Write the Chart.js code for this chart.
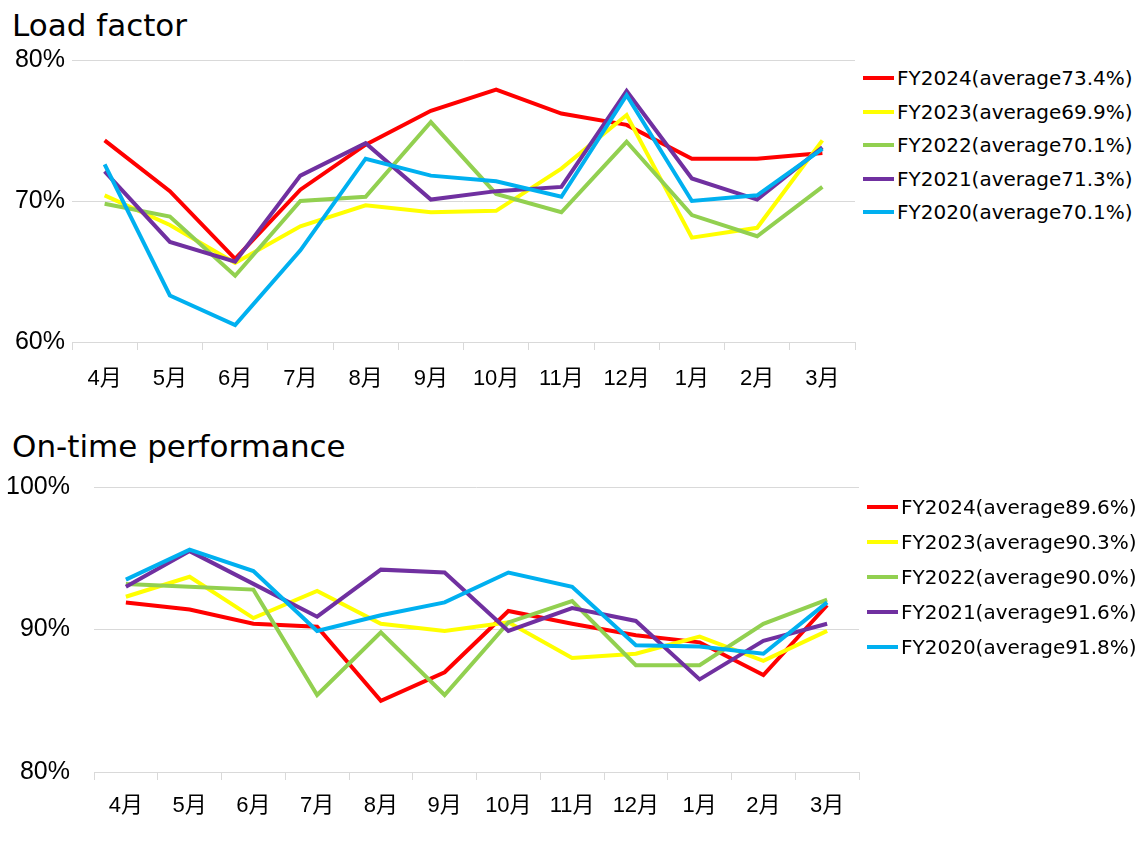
<!DOCTYPE html>
<html>
<head>
<meta charset="utf-8">
<script src="https://cdn.jsdelivr.net/npm/chart.js@4.4.1/dist/chart.umd.min.js"></script>
<style>
  html, body { margin: 0; padding: 0; background: #fff; }
  body { width: 1146px; height: 847px; position: relative; overflow: hidden; }
  .title { position: absolute; left: 12px; font-family: "DejaVu Sans", sans-serif; font-size: 31px; line-height: 31px; color: #000; white-space: nowrap; }
  canvas { position: absolute; left: 0; }
  .legend { position: absolute; font-family: "DejaVu Sans", sans-serif; font-size: 20px; color: #000; }
  .legend-row { position: absolute; left: 0; height: 24px; display: flex; align-items: center; white-space: nowrap; }
  .legend-line { width: 31px; height: 4px; margin-right: 3px; }
</style>
</head>
<body>
<div class="title" style="top:10px">Load factor</div>
<canvas id="loadChart" width="860" height="400" style="top:0px"></canvas>
<div class="legend" id="loadLegend" style="left:863px; top:0px"></div>

<div class="title" style="top:431px">On-time performance</div>
<canvas id="otpChart" width="870" height="420" style="top:420px"></canvas>
<div class="legend" id="otpLegend" style="left:867px; top:0px"></div>

<script>
const months = ['4月', '5月', '6月', '7月', '8月', '9月', '10月', '11月', '12月', '1月', '2月', '3月'];
const years = ['FY2024', 'FY2023', 'FY2022', 'FY2021', 'FY2020'];
const colors = ['#ff0000', '#ffff00', '#92d050', '#7030a0', '#00b0f0'];

// Load factor (%)
const loadAverages = [73.4, 69.9, 70.1, 71.3, 70.1];
const load2024 = [74.3, 70.7, 65.9, 70.8, 74.0, 76.4, 77.9, 76.2, 75.4, 73.0, 73.0, 73.4];
const load2023 = [70.4, 68.3, 65.6, 68.2, 69.7, 69.2, 69.3, 72.3, 76.1, 67.4, 68.1, 74.3];
const load2022 = [69.8, 68.9, 64.7, 70.0, 70.3, 75.6, 70.5, 69.2, 74.2, 69.0, 67.5, 71.0];
const load2021 = [72.1, 67.1, 65.7, 71.8, 74.1, 70.1, 70.7, 71.0, 77.8, 71.6, 70.1, 73.8];
const load2020 = [72.6, 63.3, 61.2, 66.5, 73.0, 71.8, 71.4, 70.3, 77.5, 70.0, 70.4, 73.7];

// On-time performance (%)
const otpAverages = [89.6, 90.3, 90.0, 91.6, 91.8];
const otp2024 = [91.9, 91.4, 90.4, 90.2, 85.0, 87.0, 91.3, 90.4, 89.6, 89.1, 86.8, 91.7];
const otp2023 = [92.3, 93.7, 90.8, 92.7, 90.4, 89.9, 90.5, 88.0, 88.3, 89.5, 87.8, 89.9];
const otp2022 = [93.2, 93.0, 92.8, 85.4, 89.8, 85.4, 90.5, 92.0, 87.5, 87.5, 90.4, 92.1];
const otp2021 = [93.0, 95.5, 93.2, 90.9, 94.2, 94.0, 89.9, 91.5, 90.6, 86.5, 89.2, 90.4];
const otp2020 = [93.5, 95.6, 94.1, 89.9, 91.0, 91.9, 94.0, 93.0, 88.9, 88.8, 88.3, 91.9];

const gridColor = '#d9d9d9';

function buildDatasets(seriesList) {
  return seriesList.map((data, i) => ({
    label: years[i],
    data: data,
    borderColor: colors[i],
    backgroundColor: colors[i],
    borderWidth: 4,
    pointRadius: 0,
    tension: 0,
    order: seriesList.length - 1 - i
  }));
}

function makeChart(id, seriesList, yMin, yMax, box) {
  return new Chart(document.getElementById(id), {
    type: 'line',
    data: { labels: months, datasets: buildDatasets(seriesList) },
    options: {
      responsive: false,
      animation: false,
      layout: { padding: { top: box.top, right: box.right, left: 0, bottom: 0 } },
      plugins: { legend: { display: false }, tooltip: { enabled: false } },
      scales: {
        x: {
          offset: true,
          grid: { offset: true, drawOnChartArea: false, drawTicks: true, tickLength: 8, color: gridColor },
          border: { display: true, color: gridColor },
          ticks: {
            color: '#000',
            padding: box.xPad,
            maxRotation: 0,
            font: { family: '"Liberation Sans", "Noto Sans CJK JP", sans-serif', size: 22 }
          },
          afterFit: (s) => { s.height = box.xHeight; }
        },
        y: {
          min: yMin,
          max: yMax,
          grid: { color: gridColor, drawTicks: false },
          border: { display: false },
          ticks: {
            stepSize: 10,
            color: '#000',
            padding: box.yPad,
            font: { family: '"Liberation Sans", sans-serif', size: 25 },
            callback: (v) => v + '%'
          },
          afterFit: (s) => { s.width = box.yWidth; }
        }
      }
    }
  });
}

function makeLegend(id, averages, firstY, step) {
  const el = document.getElementById(id);
  years.forEach((y, i) => {
    const row = document.createElement('div');
    row.className = 'legend-row';
    row.style.top = (firstY + i * step - 12) + 'px';
    const line = document.createElement('span');
    line.className = 'legend-line';
    line.style.background = colors[i];
    const txt = document.createElement('span');
    txt.textContent = y + '(average' + averages[i].toFixed(1) + '%)';
    row.appendChild(line);
    row.appendChild(txt);
    el.appendChild(row);
  });
}

makeChart('loadChart', [load2024, load2023, load2022, load2021, load2020], 60, 80,
  { top: 60, right: 5, yWidth: 72, xHeight: 58, xPad: 16, yPad: 7 });
makeChart('otpChart', [otp2024, otp2023, otp2022, otp2021, otp2020], 80, 100,
  { top: 67, right: 11, yWidth: 94, xHeight: 68, xPad: 13, yPad: 24 });

makeLegend('loadLegend', loadAverages, 78, 33.5);
makeLegend('otpLegend', otpAverages, 507, 35);
</script>
</body>
</html>
